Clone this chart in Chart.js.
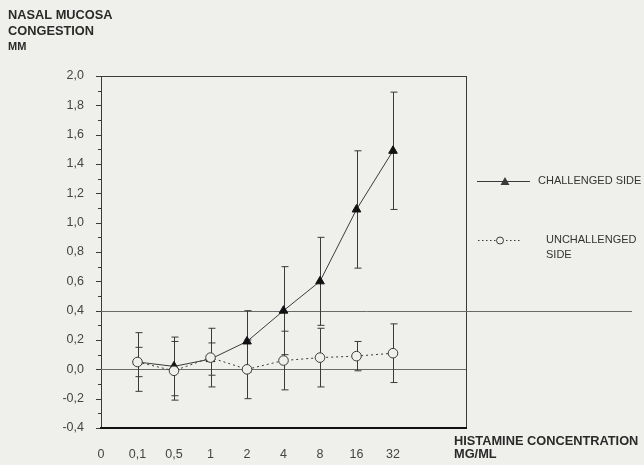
<!DOCTYPE html>
<html>
<head>
<meta charset="utf-8">
<script src="https://cdn.jsdelivr.net/npm/chart.js@4.4.1/dist/chart.umd.min.js"></script>
<style>
  body { margin: 0; background: #efefec; }
  #wrap { width: 644px; height: 465px; position: relative; }
</style>
</head>
<body>
<div id="wrap"><canvas id="nasalChart"></canvas></div>
<script>
// histamine doses, placed at index 1..8 on the x axis (0 is the origin)
const xLabels = ["0", "0,1", "0,5", "1", "2", "4", "8", "16", "32"];
const doseIndex = [1, 2, 3, 4, 5, 6, 7, 8];

const challenged = [0.05, 0.02, 0.07, 0.19, 0.40, 0.60, 1.09, 1.49];
const challengedSD = [0.10, 0.20, 0.11, 0.21, 0.30, 0.30, 0.40, 0.40];

const unchallenged = [0.05, -0.01, 0.08, 0.00, 0.06, 0.08, 0.09, 0.11];
const unchallengedSD = [0.20, 0.20, 0.20, 0.20, 0.20, 0.20, 0.10, 0.20];

const ink = "#3a3a3a";
const paper = "#efefec";

function toPoints(values) {
  return values.map((v, i) => ({ x: doseIndex[i], y: v }));
}

const frame = {
  id: "frame",
  beforeDatasetsDraw(chart) {
    const { ctx, chartArea: a, scales } = chart;
    const y = scales.y;
    ctx.save();
    ctx.strokeStyle = ink;
    ctx.lineWidth = 1;

    // y axis and its ticks
    ctx.beginPath();
    ctx.moveTo(a.left + 0.5, a.top);
    ctx.lineTo(a.left + 0.5, a.bottom);
    for (let k = -4; k <= 20; k++) {
      const py = Math.round(y.getPixelForValue(k / 10)) + 0.5;
      const len = k % 2 === 0 ? 5 : 3;
      ctx.moveTo(a.left - len, py);
      ctx.lineTo(a.left + 1, py);
    }
    // top border and right border
    const top = Math.round(y.getPixelForValue(2.0)) + 0.5;
    ctx.moveTo(a.left, top);
    ctx.lineTo(a.right, top);
    ctx.moveTo(a.right + 0.5, a.top);
    ctx.lineTo(a.right + 0.5, a.bottom);
    ctx.stroke();

    // reference lines at 0,0 and 0,4
    ctx.strokeStyle = "#6a6a6a";
    ctx.beginPath();
    const zero = Math.round(y.getPixelForValue(0)) + 0.5;
    ctx.moveTo(a.left, zero);
    ctx.lineTo(a.right, zero);
    const p4 = Math.round(y.getPixelForValue(0.4)) + 0.5;
    ctx.moveTo(a.left, p4);
    ctx.lineTo(chart.width - 12, p4);
    ctx.stroke();

    // heavy baseline
    ctx.strokeStyle = "#111";
    ctx.lineWidth = 2;
    ctx.beginPath();
    const base = y.getPixelForValue(-0.4);
    ctx.moveTo(a.left - 1, base);
    ctx.lineTo(a.right + 1, base);
    ctx.stroke();

    // error bars
    ctx.strokeStyle = ink;
    ctx.lineWidth = 1;
    const x = scales.x;
    const sets = [[challenged, challengedSD], [unchallenged, unchallengedSD]];
    sets.forEach(([vals, sd]) => {
      vals.forEach((v, i) => {
        const px = Math.round(x.getPixelForValue(doseIndex[i])) + 0.5;
        const hi = y.getPixelForValue(v + sd[i]);
        const lo = y.getPixelForValue(v - sd[i]);
        ctx.beginPath();
        ctx.moveTo(px, hi);
        ctx.lineTo(px, lo);
        ctx.moveTo(px - 3, hi);
        ctx.lineTo(px + 4, hi);
        ctx.moveTo(px - 3, lo);
        ctx.lineTo(px + 4, lo);
        ctx.stroke();
      });
    });
    ctx.restore();
  },
  afterDraw(chart) {
    const { ctx } = chart;
    ctx.save();
    ctx.fillStyle = "#2a2a2a";
    ctx.textBaseline = "alphabetic";
    ctx.font = "bold 12.8px 'Liberation Sans', Arial, sans-serif";
    ctx.fillText("NASAL MUCOSA", 8, 18.5);
    ctx.fillText("CONGESTION", 8, 34.5);
    ctx.font = "bold 11px 'Liberation Sans', Arial, sans-serif";
    ctx.fillText("MM", 8, 50);
    ctx.font = "bold 12.8px 'Liberation Sans', Arial, sans-serif";
    ctx.fillText("HISTAMINE CONCENTRATION", 454, 445);
    ctx.fillText("MG/ML", 454, 458);

    // legend
    ctx.strokeStyle = ink;
    ctx.fillStyle = ink;
    ctx.lineWidth = 1;
    ctx.beginPath();
    ctx.moveTo(477, 181.5);
    ctx.lineTo(530, 181.5);
    ctx.stroke();
    ctx.beginPath();
    ctx.moveTo(505, 177);
    ctx.lineTo(509.5, 185);
    ctx.lineTo(500.5, 185);
    ctx.closePath();
    ctx.fill();

    ctx.setLineDash([1.5, 2.5]);
    ctx.beginPath();
    ctx.moveTo(478, 240.5);
    ctx.lineTo(520, 240.5);
    ctx.stroke();
    ctx.setLineDash([]);
    ctx.fillStyle = paper;
    ctx.beginPath();
    ctx.arc(500, 240.5, 3.5, 0, Math.PI * 2);
    ctx.fill();
    ctx.stroke();

    ctx.fillStyle = "#333";
    ctx.font = "11px 'Liberation Sans', Arial, sans-serif";
    ctx.textBaseline = "middle";
    ctx.fillText("CHALLENGED SIDE", 538, 181);
    ctx.fillText("UNCHALLENGED", 546, 240);
    ctx.fillText("SIDE", 546, 255);
    ctx.restore();
  }
};

new Chart(document.getElementById("nasalChart"), {
  type: "line",
  data: {
    datasets: [
      {
        label: "UNCHALLENGED SIDE",
        data: toPoints(unchallenged),
        borderColor: ink,
        borderWidth: 1,
        borderDash: [2, 3],
        pointStyle: "circle",
        pointRadius: 4.8,
        pointBackgroundColor: paper,
        pointBorderColor: ink,
        pointBorderWidth: 1,
        tension: 0
      },
      {
        label: "CHALLENGED SIDE",
        data: toPoints(challenged),
        borderColor: ink,
        borderWidth: 1,
        pointStyle: "triangle",
        pointRadius: 5,
        pointBackgroundColor: "#111",
        pointBorderColor: "#111",
        tension: 0
      }
    ]
  },
  options: {
    responsive: true,
    maintainAspectRatio: false,
    animation: false,
    layout: { padding: { left: 0, right: 178, top: 76, bottom: 0 } },
    plugins: { legend: { display: false }, tooltip: { enabled: false } },
    scales: {
      x: {
        type: "linear",
        min: 0,
        max: 10,
        grid: { display: false },
        border: { display: false },
        afterFit: (s) => { s.height = 37; },
        ticks: {
          stepSize: 1,
          autoSkip: false,
          maxRotation: 0,
          padding: 11,
          color: "#444",
          font: { family: "'Liberation Sans', Arial, sans-serif", size: 12.5 },
          callback: (v) => xLabels[v] ?? ""
        }
      },
      y: {
        min: -0.4,
        max: 2.0,
        grid: { display: false },
        border: { display: false },
        afterFit: (s) => { s.width = 101; },
        ticks: {
          stepSize: 0.2,
          padding: 9,
          color: "#444",
          font: { family: "'Liberation Sans', Arial, sans-serif", size: 12.5 },
          callback: (v) => (Math.round(v * 10) / 10).toFixed(1).replace(".", ",")
        }
      }
    }
  },
  plugins: [frame]
});
</script>
</body>
</html>
